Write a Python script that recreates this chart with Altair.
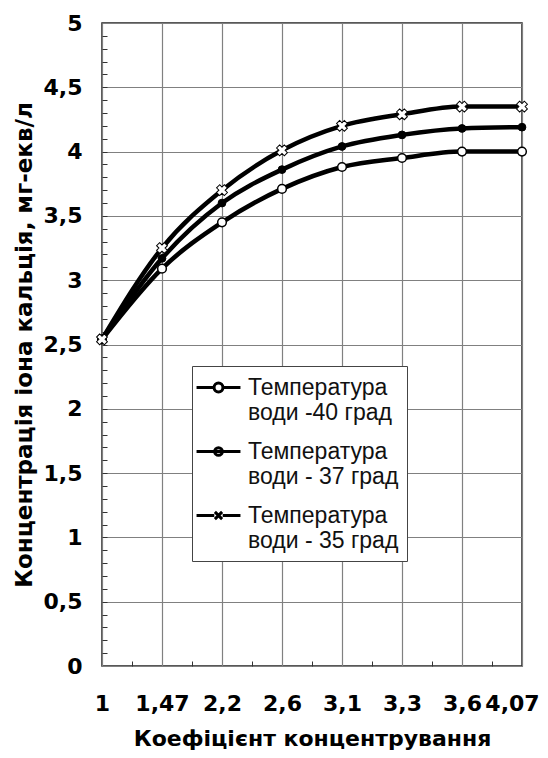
import json
import altair as alt
import pandas as pd

# ---- data ----
categories = ["1", "1,47", "2,2", "2,6", "3,1", "3,3", "3,6", "4,07"]
t40 = [2.54, 3.09, 3.45, 3.71, 3.88, 3.95, 4.00, 4.00]
t37 = [2.54, 3.17, 3.60, 3.86, 4.04, 4.13, 4.18, 4.19]
t35 = [2.54, 3.25, 3.70, 4.01, 4.20, 4.29, 4.35, 4.35]
series_names = [
    "Температура|води -40 град",
    "Температура|води - 37 град",
    "Температура|води - 35 град",
]
y_major = [0, 0.5, 1, 1.5, 2, 2.5, 3, 3.5, 4, 4.5, 5]
y_minor = [round(k / 10, 1) for k in range(1, 50)]
x_major = list(range(len(categories)))
x_minor = [i + 0.5 for i in range(len(categories) - 1)]

rows = []
for name, vals in zip(series_names, [t40, t37, t35]):
    for i, (c, v) in enumerate(zip(categories, vals)):
        rows.append({"series": name, "idx": i, "cat": c, "value": v})
df = pd.DataFrame(rows)

FONT_BOLD = "DejaVu Sans"
last_idx = len(categories) - 1
x_scale = alt.Scale(domain=[0, last_idx], nice=False, zero=False)
y_scale = alt.Scale(domain=[0, 5], nice=False)

x_major_axis = alt.Axis(
    values=x_major, orient="bottom", grid=True, ticks=False, tickSize=0, domain=False,
    labelExpr=json.dumps(categories, ensure_ascii=False) + "[datum.value]",
    labelFont=FONT_BOLD, labelFontWeight="bold", labelFontSize=22, labelColor="black",
    labelPadding=27, labelFlush=False, labelOverlap=False,
    labelOffset={"condition": {"test": f"datum.value == {last_idx}", "value": -10}, "value": 0},
    title="Коефіцієнт концентрування", titleFont=FONT_BOLD, titleFontWeight="bold",
    titleFontSize=22, titleColor="black", titlePadding=14,
    gridColor="#808080", gridWidth=1.2, gridOpacity=1,
)
y_major_axis = alt.Axis(
    values=y_major, orient="left", grid=True, ticks=False, tickSize=0, domain=False,
    labelExpr="replace(format(datum.value, '~g'), '.', ',')",
    labelFont=FONT_BOLD, labelFontWeight="bold", labelFontSize=22, labelColor="black",
    labelPadding=20, labelFlush=False, labelOverlap=False,
    title="Концентрація іона кальція, мг-екв/л", titleFont=FONT_BOLD,
    titleFontWeight="bold", titleFontSize=23, titleColor="black", titlePadding=7,
    gridColor="#808080", gridWidth=1.2, gridOpacity=1,
)
x_minor_axis = alt.Axis(
    values=x_minor, orient="bottom", offset=-5, ticks=True, tickSize=5,
    tickColor="#333", tickWidth=1, labels=False, domain=False, grid=False, title=None,
)
y_minor_axis = alt.Axis(
    values=y_minor, orient="left", offset=-5, ticks=True, tickSize=5,
    tickColor="#333", tickWidth=1, labels=False, domain=False, grid=False, title=None,
)

base = alt.Chart(df)

lines = base.mark_line(interpolate="monotone", strokeWidth=4.5, color="black").encode(
    x=alt.X("idx:Q", scale=x_scale, axis=x_major_axis),
    y=alt.Y("value:Q", scale=y_scale, axis=y_major_axis),
    detail="series:N",
)

minor_axes = base.mark_point(opacity=0).encode(
    x=alt.X("idx:Q", scale=x_scale, axis=x_minor_axis),
    y=alt.Y("value:Q", scale=y_scale, axis=y_minor_axis),
)

def pts(name, **mk):
    return base.transform_filter(alt.datum.series == name).mark_point(**mk).encode(
        x=alt.X("idx:Q", scale=x_scale, axis=None),
        y=alt.Y("value:Q", scale=y_scale, axis=None),
    )

p40 = pts(series_names[0], shape="circle", filled=True, fill="white", stroke="black",
          strokeWidth=1.5, size=75, opacity=1)
p37 = pts(series_names[1], shape="circle", filled=True, fill="black", stroke="black",
          strokeWidth=1, size=60, opacity=1)
p35 = pts(series_names[2], shape="cross", angle=45, filled=True, fill="white",
          stroke="black", strokeWidth=1, size=120, opacity=1)

# legend symbols: line segment with the marker (unit = 12 px, symbol 24 px box)
sym_open = ("M-1.83,0L-0.37,0M0.37,0L1.83,0"
            "M-0.37,0A0.37,0.37,0,1,1,0.37,0A0.37,0.37,0,1,1,-0.37,0Z")
sym_fill = "M-1.83,0L1.83,0M-0.32,0A0.32,0.32,0,1,1,0.32,0A0.32,0.32,0,1,1,-0.32,0Z"
sym_x = "M-1.83,0L-0.35,0M0.35,0L1.83,0M-0.3,-0.3L0.3,0.3M-0.3,0.3L0.3,-0.3"

legend = alt.Legend(
    title=None, orient="none", legendX=90, legendY=343, direction="vertical",
    symbolSize=576, symbolStrokeWidth=3, symbolOffset=5,
    labelFont="Liberation Sans", labelFontSize=23, labelColor="#111",
    labelLimit=400, labelOffset=16,
    labelExpr="split(datum.label, '|')", rowPadding=13, padding=8,
    fillColor="white", strokeColor="#444",
)

legend_layer = base.mark_point(opacity=0, stroke="black", filled=True).encode(
    x=alt.X("idx:Q", scale=x_scale, axis=None),
    y=alt.Y("value:Q", scale=y_scale, axis=None),
    fill=alt.Fill("series:N", sort=series_names,
                  scale=alt.Scale(domain=series_names, range=["white", "black", "white"]),
                  legend=legend),
    shape=alt.Shape("series:N", sort=series_names,
                    scale=alt.Scale(domain=series_names, range=[sym_open, sym_fill, sym_x]),
                    legend=legend),
)

chart = alt.layer(lines, minor_axes, p40, p37, p35, legend_layer).resolve_axis(
    x="independent", y="independent"
).properties(
    width=420, height=643,
    autosize=alt.AutoSizeParams(type="none"),
    padding={"left": 94, "top": 15, "right": 18, "bottom": 84},
).configure_view(stroke="#222", strokeWidth=1.5)

chart.save("out.html", embed_options={"renderer": "svg", "actions": False})
